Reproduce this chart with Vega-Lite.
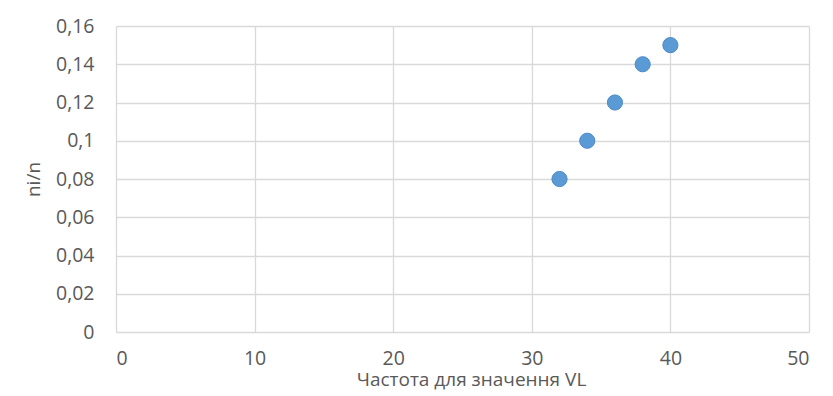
{
  "$schema": "https://vega.github.io/schema/vega-lite/v6.json",
  "autosize": "none",
  "width": 693,
  "height": 306,
  "padding": {"left": 116, "top": 26, "right": 24, "bottom": 64},
  "background": "white",
  "config": {
    "view": {"stroke": null},
    "font": "Open Sans",
    "axis": {
      "domain": false,
      "ticks": false,
      "gridColor": "#d9d9d9",
      "gridWidth": 1.3,
      "labelColor": "#595959",
      "titleColor": "#595959",
      "labelFont": "Open Sans",
      "titleFont": "Open Sans",
      "labelFontSize": 19.5,
      "titleFontSize": 19,
      "titleFontWeight": "normal"
    }
  },
  "data": {
    "values": [
      {"x": 32, "y": 0.08},
      {"x": 34, "y": 0.10},
      {"x": 36, "y": 0.12},
      {"x": 38, "y": 0.14},
      {"x": 40, "y": 0.15}
    ]
  },
  "mark": {"type": "point", "filled": true, "shape": "circle", "size": 230, "color": "#5b9bd5", "stroke": "#4a88c8", "strokeWidth": 1, "opacity": 1},
  "encoding": {
    "x": {
      "field": "x", "type": "quantitative",
      "scale": {"domain": [0, 50], "nice": false, "zero": true},
      "axis": {"values": [0, 10, 20, 30, 40, 50], "labelPadding": 17, "title": "Частота для значення VL", "titlePadding": 3, "titleX": 355}
    },
    "y": {
      "field": "y", "type": "quantitative",
      "scale": {"domain": [0, 0.16], "nice": false},
      "axis": {"values": [0, 0.02, 0.04, 0.06, 0.08, 0.1, 0.12, 0.14, 0.16], "labelExpr": "replace(format(datum.value, ''), '.', ',')", "labelPadding": 22, "title": "ni/n", "titlePadding": 12}
    }
  }
}
